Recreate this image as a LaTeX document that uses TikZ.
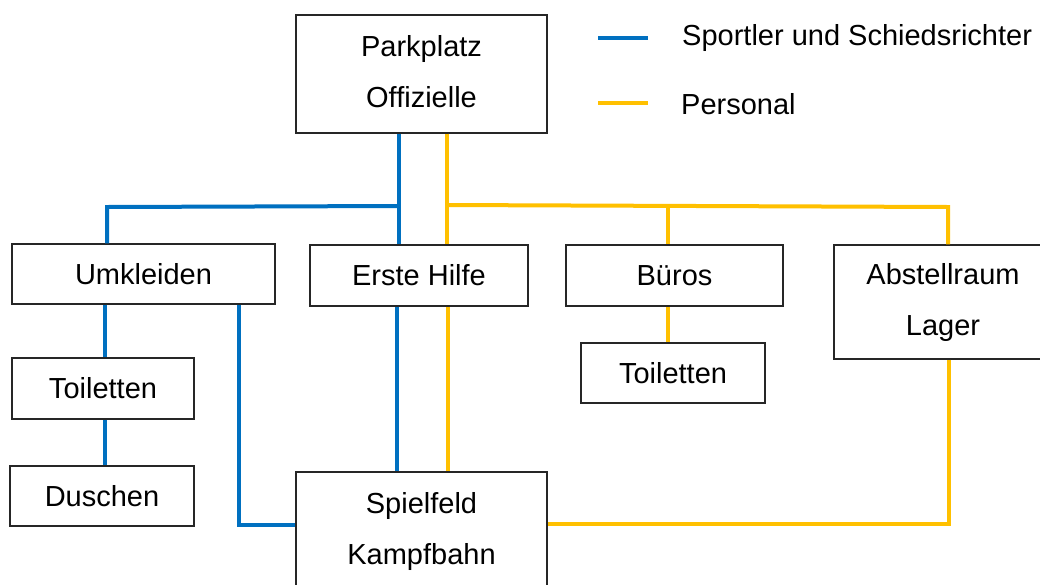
\documentclass[tikz,border=0pt]{standalone}
\usepackage{fontspec}
\setmainfont{Liberation Sans}
\definecolor{lblue}{HTML}{0070C0}
\definecolor{lyellow}{HTML}{FFC000}
\begin{document}
\begin{tikzpicture}[x=1pt,y=-1pt,
  room/.style={draw=black!85, line width=1.3pt, fill=white, inner sep=0pt, align=center,
    font=\fontsize{29}{51}\selectfont},
  bline/.style={draw=lblue, line width=4pt},
  yline/.style={draw=lyellow, line width=4pt},
  legtext/.style={anchor=base west, inner sep=0pt, font=\fontsize{29}{35}\selectfont}]
\clip (0,0) rectangle (1040,584);
\fill[white] (0,0) rectangle (1040,584);
% junction coordinates
\coordinate (bj) at (399,206);
\coordinate (bl) at (107,207);
\coordinate (bu) at (105,0);
\coordinate (ub) at (239,525);
\coordinate (be) at (397,0);
\coordinate (yj) at (447,205);
\coordinate (yb) at (668,206);
\coordinate (yr) at (948,207);
\coordinate (ye) at (448,0);
\coordinate (ya) at (949,524);
% rooms
\node[room, minimum width=251pt, minimum height=118pt] (park) at (421.5,74) {Parkplatz\\Offizielle\vphantom{p}};
\node[room, minimum width=263pt, minimum height=60pt] (umk) at (143.5,274) {Umkleiden};
\node[room, minimum width=182pt, minimum height=61pt] (toi1) at (103,388.5) {Toiletten};
\node[room, minimum width=184pt, minimum height=60pt] (dus) at (102,496) {Duschen};
\node[room, minimum width=218pt, minimum height=61pt] (eh) at (419,275.5) {Erste Hilfe};
\node[room, minimum width=217pt, minimum height=61pt] (bur) at (674.5,275.5) {Büros};
\node[room, minimum width=184pt, minimum height=60pt] (toi2) at (673,373) {Toiletten};
\node[room, minimum width=218pt, minimum height=114pt] (abst) at (943,302) {Abstellraum\\Lager};
\node[room, minimum width=251pt, minimum height=118pt] (spiel) at (421.5,531) {Spielfeld\\Kampfbahn};
% blue connectors
\draw[bline] (park.south -| bj) -- (eh.north -| bj);
\draw[bline] (bj) -- (bl) -- (umk.north -| bl);
\draw[bline] (umk.south -| bu) -- (toi1.north -| bu);
\draw[bline] (toi1.south -| bu) -- (dus.north -| bu);
\draw[bline] (umk.south -| ub) -- (ub) -- (ub -| spiel.west);
\draw[bline] (eh.south -| be) -- (spiel.north -| be);
% yellow connectors
\draw[yline] (park.south -| yj) -- (eh.north -| yj);
\draw[yline] (yj) -- (yr) -- (abst.north -| yr);
\draw[yline] (yb) -- (bur.north -| yb);
\draw[yline] (bur.south -| yb) -- (toi2.north -| yb);
\draw[yline] (eh.south -| ye) -- (spiel.north -| ye);
\draw[yline] (abst.south -| ya) -- (ya) -- (ya -| spiel.east);
% legend
\coordinate (lb1) at (598,38);
\coordinate (lb2) at (648,38);
\coordinate (ly1) at (598,103);
\coordinate (ly2) at (648,103);
\draw[bline] (lb1) -- (lb2);
\draw[yline] (ly1) -- (ly2);
\node[legtext] (lt1) at (682,45.5) {Sportler und Schiedsrichter};
\node[legtext] (lt2) at (681,114) {Personal};
\end{tikzpicture}
\end{document}
